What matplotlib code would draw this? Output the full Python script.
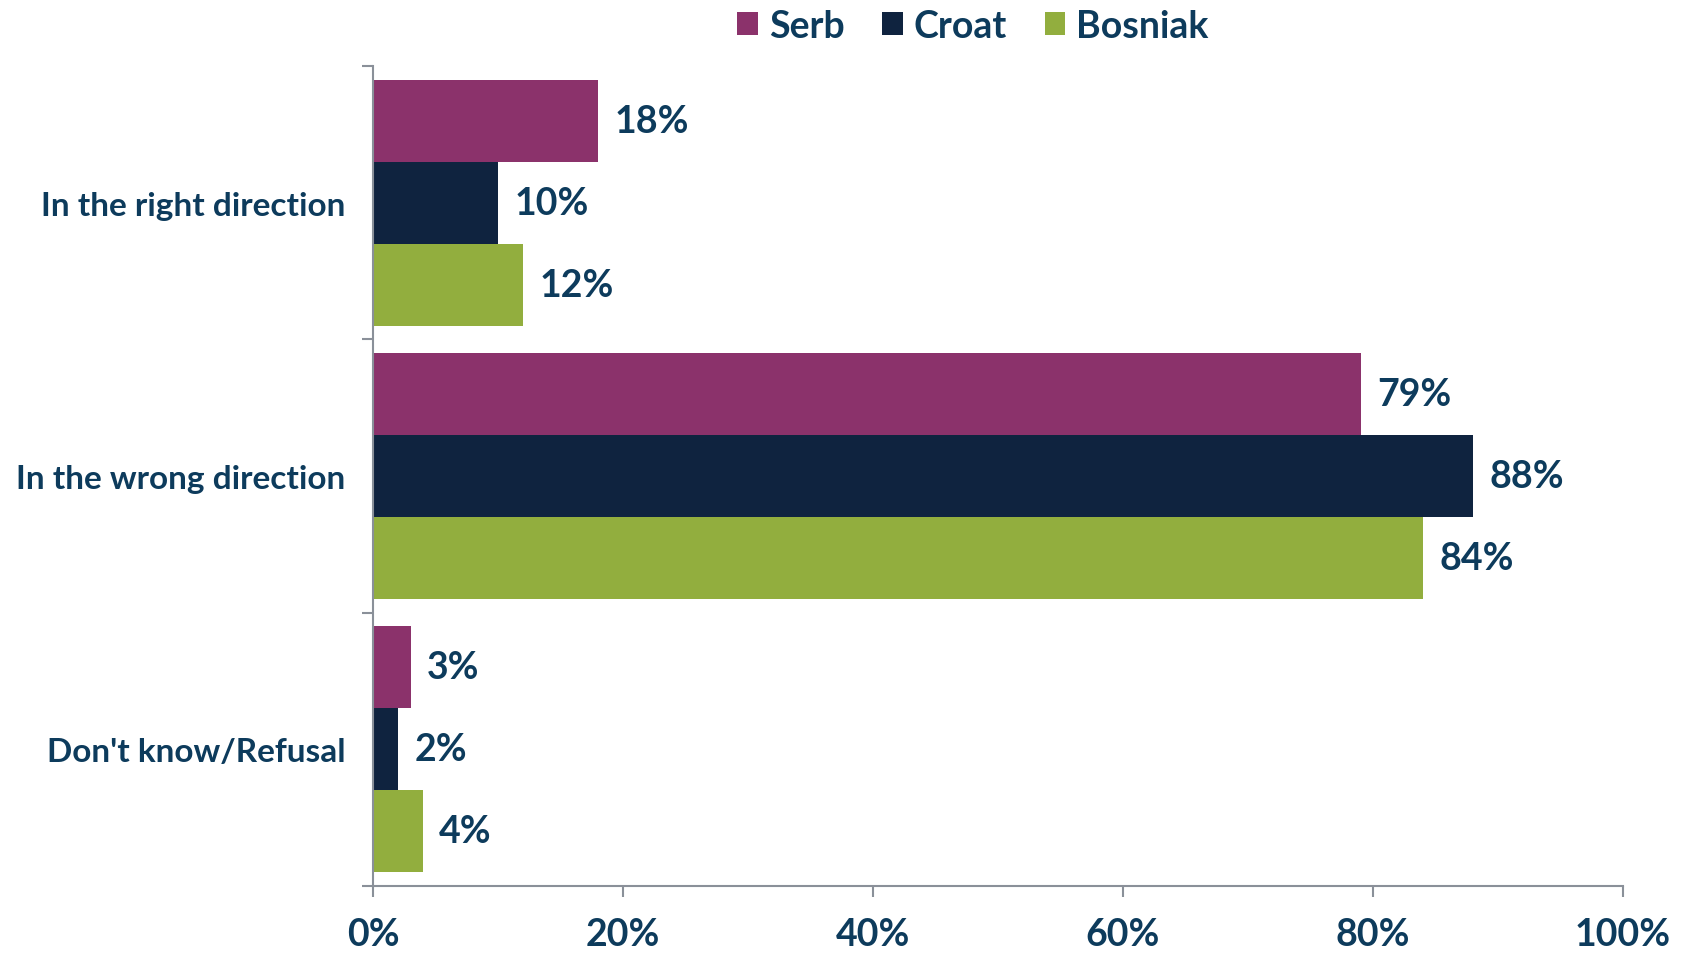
import matplotlib.pyplot as plt
import numpy as np

categories = ["In the right direction", "In the wrong direction", "Don't know/Refusal"]
groups = ["Serb", "Croat", "Bosniak"]
serb = [18, 79, 3]
croat = [10, 88, 2]
bosniak = [12, 84, 4]
x_ticks = [0, 20, 40, 60, 80, 100]

colors = ["#8B326B", "#0F233F", "#92AE3E"]
text_color = "#0D3B5C"
axis_color = "#8A9099"

plt.rcParams["font.family"] = ["Lato", "DejaVu Sans"]

fig = plt.figure(figsize=(16.92, 9.54), dpi=100)
ax = fig.add_axes([373 / 1692, 1 - 887 / 954, (1623 - 373) / 1692, (887 - 67) / 954])

y = np.arange(len(categories))
h = 0.3
for i, (name, vals) in enumerate(zip(groups, [serb, croat, bosniak])):
    pos = y + (i - 1) * h
    ax.barh(pos, vals, height=h, color=colors[i], label=name)
    for p, v in zip(pos, vals):
        ax.text(v + 1.3, p, f"{v}%", va="center", ha="left",
                fontsize=27, fontweight="bold", color=text_color)

ax.set_xlim(0, 100)
ax.set_ylim(len(categories) - 0.5, -0.5)

# category boundaries as ticks, names at the middle
ax.set_yticks(np.arange(-0.5, len(categories), 1.0))
ax.set_yticklabels([])
ax.set_yticks(y, minor=True)
ax.set_yticklabels(categories, minor=True, fontsize=24, fontweight="bold", color=text_color)
ax.tick_params(axis="y", which="minor", length=0, pad=20)
ax.tick_params(axis="y", which="major", length=8, width=1.5, color=axis_color, direction="out")

ax.set_xticks(x_ticks)
ax.set_xticklabels([f"{t}%" for t in x_ticks], fontsize=27, fontweight="bold", color=text_color)
ax.tick_params(axis="x", length=8, width=1.5, color=axis_color, pad=14)

for side in ["top", "right"]:
    ax.spines[side].set_visible(False)
ax.spines["left"].set_color(axis_color)
ax.spines["bottom"].set_color(axis_color)
ax.spines["left"].set_linewidth(1.5)
ax.spines["bottom"].set_linewidth(1.5)

leg = fig.legend(loc="upper center", bbox_to_anchor=(0.575, 1.025), ncol=3, frameon=False,
                 prop={"size": 27, "weight": "bold"}, handlelength=0.55, handleheight=0.55,
                 handletextpad=0.3, columnspacing=1.0)
for t in leg.get_texts():
    t.set_color(text_color)

fig.savefig("out.png", dpi=100)
